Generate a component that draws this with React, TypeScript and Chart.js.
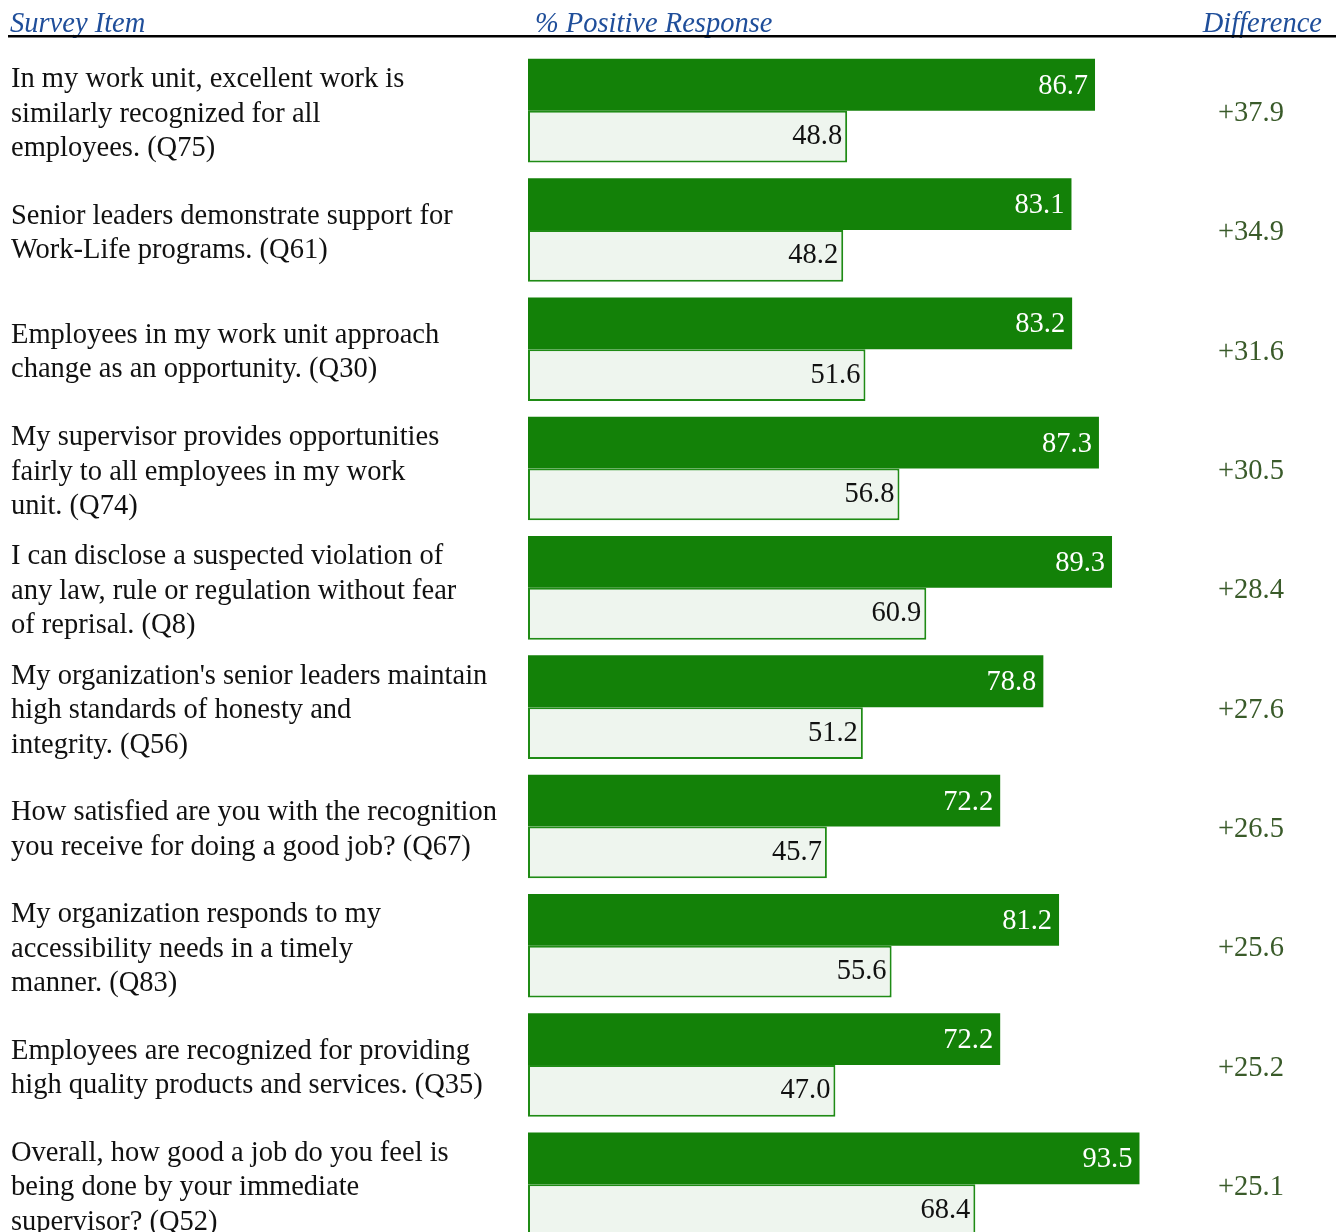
import React, { useEffect, useRef } from "react";
import { Chart, registerables } from "chart.js";

Chart.register(...registerables);

const surveyItems: string[][] = [
  ["In my work unit, excellent work is", "similarly recognized for all", "employees. (Q75)"],
  ["Senior leaders demonstrate support for", "Work-Life programs. (Q61)"],
  ["Employees in my work unit approach", "change as an opportunity. (Q30)"],
  ["My supervisor provides opportunities", "fairly to all employees in my work", "unit. (Q74)"],
  ["I can disclose a suspected violation of", "any law, rule or regulation without fear", "of reprisal. (Q8)"],
  ["My organization's senior leaders maintain", "high standards of honesty and", "integrity. (Q56)"],
  ["How satisfied are you with the recognition", "you receive for doing a good job? (Q67)"],
  ["My organization responds to my", "accessibility needs in a timely", "manner. (Q83)"],
  ["Employees are recognized for providing", "high quality products and services. (Q35)"],
  ["Overall, how good a job do you feel is", "being done by your immediate", "supervisor? (Q52)"],
];

const currentValues: number[] = [86.7, 83.1, 83.2, 87.3, 89.3, 78.8, 72.2, 81.2, 72.2, 93.5];
const comparisonValues: number[] = [48.8, 48.2, 51.6, 56.8, 60.9, 51.2, 45.7, 55.6, 47.0, 68.4];
const differenceLabels: string[] = ["+37.9", "+34.9", "+31.6", "+30.5", "+28.4", "+27.6", "+26.5", "+25.6", "+25.2", "+25.1"];

const headerLabels: string[] = ["Survey Item", "% Positive Response", "Difference"];

const FONT = "'Liberation Serif', 'Times New Roman', serif";
const FS = 28.5;

const headerPlugin = {
  id: "headerPlugin",
  afterDraw(chart: any) {
    const ctx = chart.ctx;
    ctx.save();
    ctx.font = `italic ${FS}px ${FONT}`;
    ctx.fillStyle = "#1f4e9a";
    ctx.textBaseline = "alphabetic";
    ctx.textAlign = "left";
    ctx.fillText(headerLabels[0], 10, 32);
    ctx.fillText(headerLabels[1], 535, 32);
    ctx.textAlign = "right";
    ctx.fillText(headerLabels[2], 1322, 32);
    ctx.fillStyle = "#000000";
    ctx.fillRect(8, 35, 1328, 2.5);
    ctx.restore();
  },
};

const valueLabelPlugin = {
  id: "valueLabelPlugin",
  afterDatasetsDraw(chart: any) {
    const ctx = chart.ctx;
    ctx.save();
    ctx.font = `${FS}px ${FONT}`;
    ctx.textAlign = "right";
    ctx.textBaseline = "middle";
    chart.data.datasets.forEach((ds: any, di: number) => {
      const meta = chart.getDatasetMeta(di);
      meta.data.forEach((el: any, i: number) => {
        const v = ds.data[i] as number;
        ctx.fillStyle = di === 0 ? "#ffffff" : "#111111";
        const off = di === 0 ? 7 : 5;
        const dy = di === 0 ? 1.5 : 0;
        ctx.fillText(v.toFixed(1), el.x - off, el.y + dy);
      });
    });
    ctx.restore();
  },
};

export default function App() {
  const canvasRef = useRef<HTMLCanvasElement | null>(null);

  useEffect(() => {
    if (!canvasRef.current) return;
    const chart = new Chart(canvasRef.current, {
      type: "bar",
      data: {
        labels: surveyItems,
        datasets: [
          {
            label: "Current",
            data: currentValues,
            backgroundColor: "#138108",
            borderWidth: 0,
            yAxisID: "y",
          },
          {
            label: "Comparison",
            data: comparisonValues,
            backgroundColor: "#eef5ee",
            borderColor: "#1f8b15",
            borderWidth: 2,
            borderSkipped: false,
            yAxisID: "y",
          },
        ],
      },
      options: {
        indexAxis: "y",
        responsive: false,
        animation: false,
        devicePixelRatio: 1,
        layout: { padding: { left: 11, top: 51, right: 0, bottom: 0 } },
        datasets: {
          bar: { categoryPercentage: 0.868, barPercentage: 1 },
        },
        plugins: {
          legend: { display: false },
          tooltip: { enabled: false },
          title: { display: false },
        },
        scales: {
          x: { display: false, min: 0, max: 100 },
          y: {
            position: "left",
            grid: { display: false, drawTicks: false },
            border: { display: false },
            ticks: {
              crossAlign: "far",
              color: "#111111",
              font: { family: FONT, size: FS, lineHeight: 34.5 / FS },
              padding: 0,
              labelOffset: 3.5,
              autoSkip: false,
            },
            afterFit(scale: any) {
              scale.width = 517;
              scale.paddingTop = 0;
              scale.paddingBottom = 0;
            },
          },
          y2: {
            type: "category",
            position: "right",
            labels: differenceLabels,
            offset: true,
            grid: { display: false, drawTicks: false },
            border: { display: false },
            ticks: {
              crossAlign: "near",
              color: "#3a5b2a",
              font: { family: FONT, size: FS },
              padding: 36,
              labelOffset: 3,
              autoSkip: false,
            },
            afterFit(scale: any) {
              scale.width = 161;
              scale.paddingTop = 0;
              scale.paddingBottom = 0;
            },
          },
        },
      },
      plugins: [headerPlugin, valueLabelPlugin],
    } as any);
    return () => chart.destroy();
  }, []);

  return (
    <div
      style={{
        position: "absolute",
        left: 0,
        top: 0,
        width: 1343,
        height: 1232,
        overflow: "hidden",
        background: "#ffffff",
      }}
    >
      <canvas ref={canvasRef} width={1343} height={1244} style={{ display: "block" }} />
    </div>
  );
}
